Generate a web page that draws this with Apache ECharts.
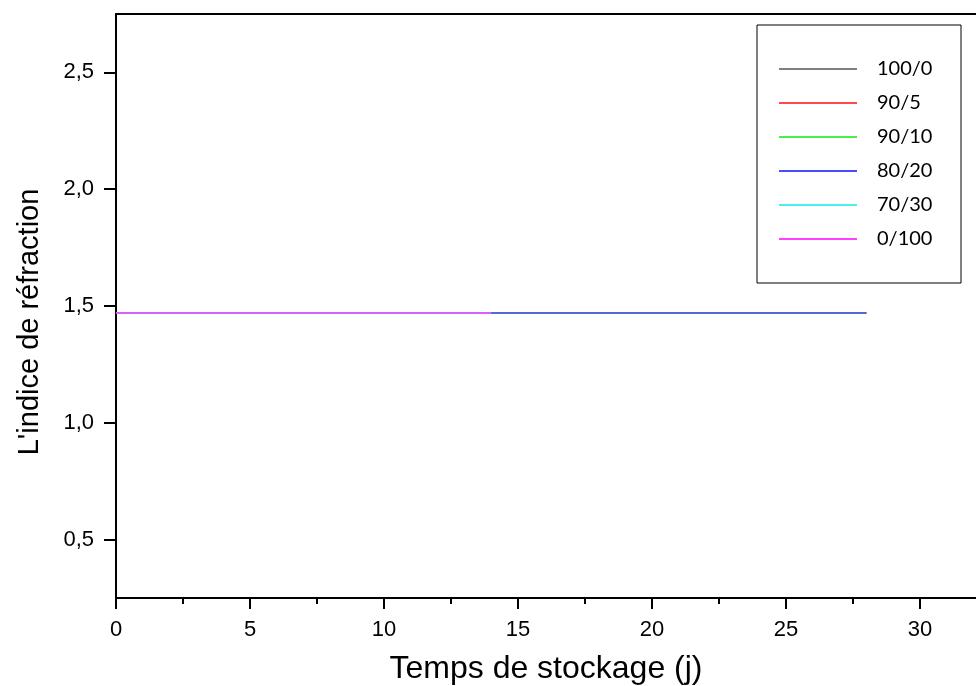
<!DOCTYPE html>
<html>
<head>
<meta charset="utf-8">
<script src="https://cdn.jsdelivr.net/npm/echarts@6/dist/echarts.min.js"></script>
<style>
  html, body { margin: 0; padding: 0; background: #fff; }
  #chart { width: 976px; height: 686px; }
</style>
</head>
<body>
<div id="chart"></div>
<script>
// Storage time (days) and refractive index per blend
const daysLong = [0, 7, 14, 21, 28];
const daysShort = [0, 7, 14];
const blendNames = ['100/0', '90/5', '90/10', '80/20', '70/30', '0/100'];
const idx_100_0 = [1.47, 1.47, 1.47, 1.47, 1.47];
const idx_90_5 = [1.47, 1.47, 1.47, 1.47, 1.47];
const idx_90_10 = [1.47, 1.47, 1.47, 1.47, 1.47];
const idx_80_20 = [1.47, 1.47, 1.47, 1.47, 1.47];
const idx_70_30 = [1.47, 1.47, 1.47];
const idx_0_100 = [1.47, 1.47, 1.47];
const blendColors = ['#7f7f7f', '#ff4a4a', '#4aee4a', '#4a4aff', '#4af0f0', '#ff40ff'];

const xTicks = [0, 5, 10, 15, 20, 25, 30];
const xMinorTicks = [2.5, 7.5, 12.5, 17.5, 22.5, 27.5];
const yTicks = [0.5, 1.0, 1.5, 2.0, 2.5];
const xMax = 32.09;

const seriesData = [
  [daysLong, idx_100_0],
  [daysLong, idx_90_5],
  [daysLong, idx_90_10],
  [daysLong, idx_80_20],
  [daysShort, idx_70_30],
  [daysShort, idx_0_100]
];

const chart = echarts.init(document.getElementById('chart'));
const axisFont = 'Liberation Sans, Arial, sans-serif';
const black = { color: '#000', width: 2 };

chart.setOption({
  animation: false,
  backgroundColor: '#fff',
  grid: { left: 116, top: 14, right: 0, bottom: 88, show: false, outerBoundsMode: 'none', containLabel: false },
  legend: {
    left: 757, top: 25,
    orient: 'vertical',
    selectedMode: false,
    backgroundColor: '#fff',
    borderColor: '#000', borderWidth: 1,
    padding: [27, 22, 27, 22],
    itemGap: 0,
    itemWidth: 78, itemHeight: 2,
    icon: 'rect',
    textStyle: {
      fontFamily: 'Lato, Open Sans, sans-serif',
      fontSize: 20, color: '#000',
      lineHeight: 34, width: 62,
      padding: [0, 0, 0, 15]
    },
    data: blendNames
  },
  xAxis: [
    {
      type: 'value', position: 'bottom',
      min: 0, max: xMax,
      name: 'Temps de stockage (j)',
      nameLocation: 'middle',
      nameGap: 55,
      nameTextStyle: { fontFamily: axisFont, fontSize: 32, color: '#000' },
      axisLine: { show: true, lineStyle: black },
      axisTick: { show: true, length: 11, customValues: xTicks, lineStyle: black },
      axisLabel: {
        fontFamily: axisFont, fontSize: 22, color: '#000', margin: 21,
        customValues: xTicks,
        formatter: v => String(v)
      },
      splitLine: { show: false }
    },
    {
      // half-step tick marks along the bottom
      type: 'value', position: 'bottom',
      min: 0, max: xMax,
      axisLine: { show: false },
      axisTick: { show: true, length: 6, customValues: xMinorTicks, lineStyle: black },
      axisLabel: { show: false },
      splitLine: { show: false }
    },
    {
      // top frame line
      type: 'value', position: 'top',
      min: 0, max: xMax,
      axisLine: { show: true, lineStyle: black },
      axisTick: { show: false },
      axisLabel: { show: false },
      splitLine: { show: false }
    }
  ],
  yAxis: {
    type: 'value',
    min: 0.25, max: 2.75,
    name: "L'indice de réfraction",
    nameLocation: 'middle',
    nameGap: 72,
    nameTextStyle: { fontFamily: axisFont, fontSize: 29, color: '#000', padding: [0, 32, 0, 0] },
    axisLine: { show: true, lineStyle: black },
    axisTick: { show: true, length: 12, customValues: yTicks, lineStyle: black },
    axisLabel: {
      fontFamily: axisFont, fontSize: 22, color: '#000', margin: 22,
      customValues: yTicks,
      formatter: v => v.toFixed(1).replace('.', ',')
    },
    splitLine: { show: false }
  },
  series: blendNames.map((name, i) => ({
    name: name,
    type: 'line',
    xAxisIndex: 0,
    data: seriesData[i][0].map((d, k) => [d, seriesData[i][1][k]]),
    showSymbol: false,
    symbol: 'none',
    lineStyle: { color: blendColors[i], width: 1.5 },
    itemStyle: { color: blendColors[i] }
  }))
});
</script>
</body>
</html>
